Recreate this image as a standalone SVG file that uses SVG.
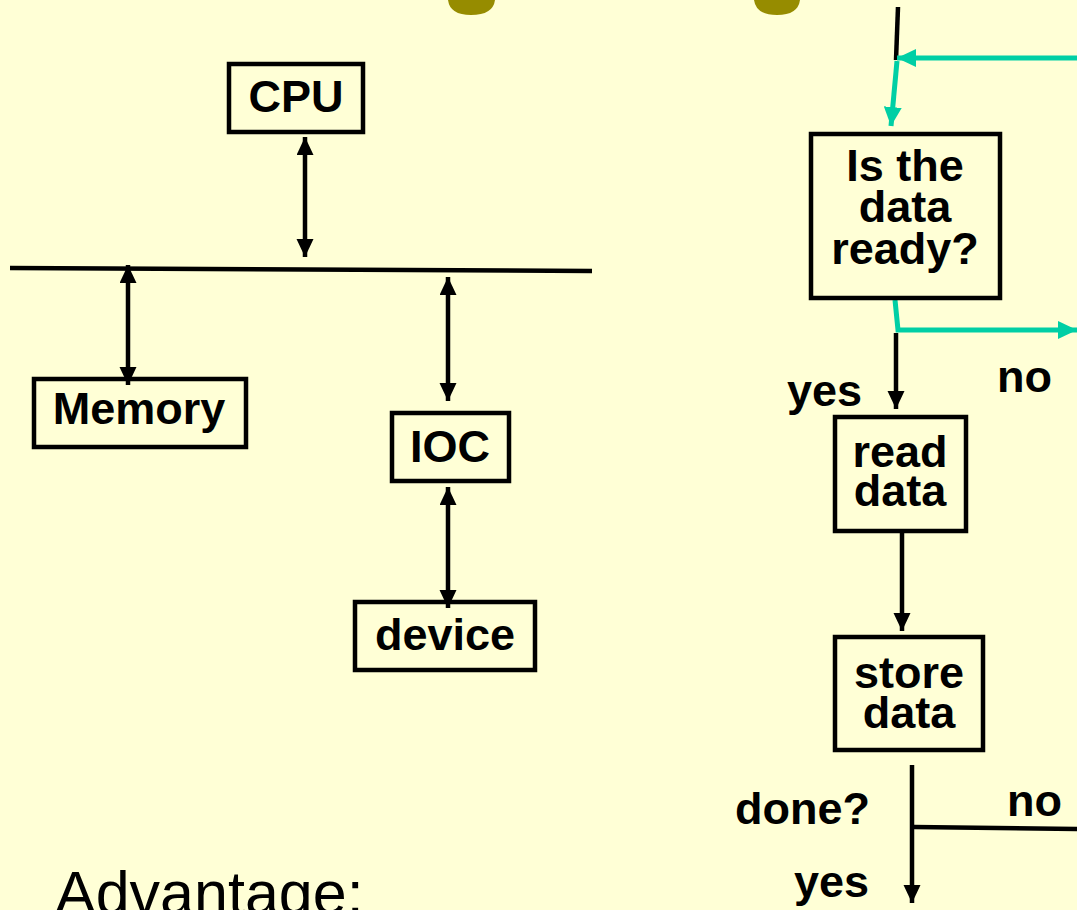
<svg xmlns="http://www.w3.org/2000/svg" width="1077" height="910" viewBox="0 0 1077 910">
<style>
.box{fill:none;stroke:#000;stroke-width:4.5}
.t{font-family:"Liberation Sans",Arial,sans-serif;font-weight:bold;font-size:45px;fill:#000;text-anchor:middle}
.lbl{font-family:"Liberation Sans",Arial,sans-serif;font-weight:bold;font-size:45px;fill:#000}
.blk{stroke:#000;stroke-width:4.5;fill:none}
.tl{stroke:#00CFA5;stroke-width:5;fill:none}
</style>
<defs>
<marker id="ah" markerUnits="userSpaceOnUse" markerWidth="18" markerHeight="18" refX="18" refY="8.5" orient="auto-start-reverse">
<path d="M0,0 L18,8.5 L0,17 z" fill="#000"/>
</marker>
<marker id="ahT" markerUnits="userSpaceOnUse" markerWidth="19" markerHeight="18" refX="19" refY="9" orient="auto-start-reverse">
<path d="M0,0 L19,9 L0,18 z" fill="#00CFA5"/>
</marker>
</defs>
<rect width="1077" height="910" fill="#FFFFD6"/>
<g id="title-fragments" fill="#968C00">
<path d="M448,0 Q450,15 471,15 Q493,15 495,0 z"/>
<path d="M754,0 Q756,15 777,15 Q798,15 800,0 z"/>
</g>
<g id="connectors">
<line class="blk" x1="10" y1="268" x2="592" y2="271"/>
<line class="blk" x1="305" y1="137" x2="305" y2="257" marker-start="url(#ah)" marker-end="url(#ah)"/>
<line class="blk" x1="128" y1="265" x2="128" y2="385" marker-start="url(#ah)" marker-end="url(#ah)"/>
<line class="blk" x1="448" y1="277" x2="448" y2="401" marker-start="url(#ah)" marker-end="url(#ah)"/>
<line class="blk" x1="448" y1="487" x2="448" y2="608" marker-start="url(#ah)" marker-end="url(#ah)"/>
<line class="blk" x1="898" y1="7" x2="896" y2="60"/>
<line class="tl" x1="1077" y1="58" x2="897" y2="58" marker-end="url(#ahT)"/>
<line class="tl" x1="897" y1="61" x2="891" y2="126" marker-end="url(#ahT)"/>
<polyline class="tl" points="895,300 898,330 1077,330" marker-end="url(#ahT)"/>
<line class="blk" x1="896" y1="333" x2="896" y2="409" marker-end="url(#ah)"/>
<line class="blk" x1="902" y1="533" x2="902" y2="631" marker-end="url(#ah)"/>
<line class="blk" x1="912" y1="765" x2="912" y2="903" marker-end="url(#ah)"/>
<line class="blk" x1="914" y1="827" x2="1077" y2="829"/>
</g>
<g id="cpu"><rect class="box" x="229" y="64" width="134" height="68"/><text class="t" x="296" y="112">CPU</text></g>
<g id="memory"><rect class="box" x="34" y="379" width="212" height="68"/><text class="t" x="139" y="424">Memory</text></g>
<g id="ioc"><rect class="box" x="392" y="413" width="117" height="68"/><text class="t" x="450" y="462">IOC</text></g>
<g id="device"><rect class="box" x="355" y="602" width="180" height="68"/><text class="t" x="445" y="650">device</text></g>
<g id="is-data-ready"><rect class="box" x="811" y="134" width="189" height="164"/>
<text class="t" x="905" y="181">Is the</text><text class="t" x="905" y="222">data</text><text class="t" x="905" y="264">ready?</text></g>
<g id="read-data"><rect class="box" x="835" y="417" width="131" height="114"/>
<text class="t" x="900" y="467">read</text><text class="t" x="900" y="506">data</text></g>
<g id="store-data"><rect class="box" x="835" y="637" width="148" height="113"/>
<text class="t" x="909" y="688">store</text><text class="t" x="909" y="728">data</text></g>
<g id="labels">
<text class="lbl" x="787" y="406">yes</text>
<text class="lbl" x="997" y="392">no</text>
<text class="lbl" x="735" y="824">done?</text>
<text class="lbl" x="1007" y="816">no</text>
<text class="lbl" x="794" y="897">yes</text>
<text x="55" y="914" font-family="'Liberation Sans',Arial,sans-serif" font-size="61" fill="#000">Advantage:</text>
</g>
</svg>
